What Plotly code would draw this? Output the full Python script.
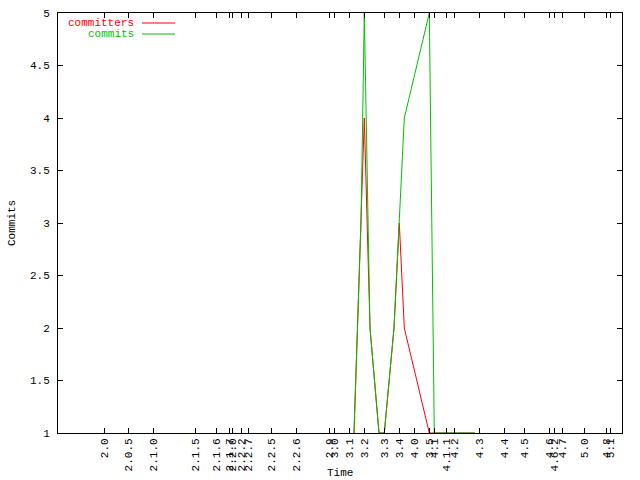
import plotly.graph_objects as go

# ---- data (time in arbitrary day-like units along the x axis) ----
commits_t = [296, 303, 306.3, 312, 321, 326.3, 336, 341.3, 346.3, 371.3, 376.3, 417]
commits_v = [1, 3, 5, 2, 1, 1, 2, 3, 4, 5, 1, 1]
committers_t = [296, 303, 306.3, 312, 321, 326.3, 336, 341.3, 346.3, 371.3, 376.3, 417]
committers_v = [1, 3, 4, 2, 1, 1, 2, 3, 2, 1, 1, 1]

release_labels = ["2.0", "2.0.5", "2.1.0", "2.1.5", "2.1.6", "2.1.7", "2.2.0", "2.2.2", "2.2.7",
                  "2.2.5", "2.2.6", "2.9", "3.0", "3.1", "3.2", "3.3", "3.4", "4.0", "3.5",
                  "4.1", "4.1.1", "4.2", "4.3", "4.4", "4.5", "4.6", "4.6.2", "4.7", "5.0",
                  "4.8", "5.1"]
release_t = [46.3, 70.3, 95.3, 137, 158, 171, 174.5, 183, 190,
             213, 238, 271.3, 276.3, 291.3, 306.3, 326.3, 341.3, 356.3, 371.3,
             376.3, 388, 396.3, 421, 446, 466, 491, 496, 504, 526,
             548, 552]

y_ticks = [1, 1.5, 2, 2.5, 3, 3.5, 4, 4.5, 5]

FONT = "Liberation Mono"
RED = "#ff0000"
GREEN = "#00c000"

fig = go.Figure()
fig.add_trace(go.Scatter(x=committers_t, y=committers_v, mode="lines",
                         line=dict(color=RED, width=1), name="committers"))
fig.add_trace(go.Scatter(x=commits_t, y=commits_v, mode="lines",
                         line=dict(color=GREEN, width=1), name="commits"))

fig.update_layout(
    width=640, height=480,
    margin=dict(l=58, r=18, t=13, b=47, autoexpand=False),
    paper_bgcolor="white", plot_bgcolor="white",
    showlegend=False,
    font=dict(family=FONT, size=11, color="black"),
)
fig.update_xaxes(
    range=[0, 564], tickmode="array", tickvals=release_t, ticktext=release_labels,
    tickangle=-90, ticks="inside", ticklen=5, tickcolor="black",
    showline=True, linecolor="black", linewidth=1, mirror="ticks",
    showgrid=False, zeroline=False, tickfont=dict(family=FONT, size=11),
    automargin=False,
)
fig.update_yaxes(
    range=[1, 5], tickmode="array", tickvals=y_ticks,
    ticktext=[("%g" % v) for v in y_ticks],
    ticks="inside", ticklen=5, tickcolor="black",
    showline=True, linecolor="black", linewidth=1, mirror="ticks",
    showgrid=False, zeroline=False, tickfont=dict(family=FONT, size=11),
    ticklabelstandoff=5, automargin=False,
)

# axis titles
fig.add_annotation(text="Commits", xref="paper", yref="paper", x=(12-58)/564, y=0.5,
                   textangle=-90, showarrow=False, font=dict(family=FONT, size=11),
                   xanchor="center", yanchor="middle")
fig.add_annotation(text="Time", xref="paper", yref="paper", x=(340-58)/564, y=-(473-433)/420,
                   showarrow=False, font=dict(family=FONT, size=11),
                   xanchor="center", yanchor="middle")

# key
for i, (name, col) in enumerate([("committers", RED), ("commits", GREEN)]):
    ypix = 23 + i * 11
    yp = 1 - (ypix - 13) / 420
    fig.add_annotation(text=name, xref="paper", yref="paper", x=(136-58)/564, y=yp,
                       showarrow=False, font=dict(family=FONT, size=11, color=col),
                       xanchor="right", yanchor="middle")
    fig.add_shape(type="line", xref="paper", yref="paper",
                  x0=(142-58)/564, x1=(175-58)/564, y0=yp, y1=yp,
                  line=dict(color=col, width=1))

fig.write_html("out.html", config={"displayModeBar": False},
               post_script="document.body.style.margin='0';document.body.style.overflow='hidden';")
